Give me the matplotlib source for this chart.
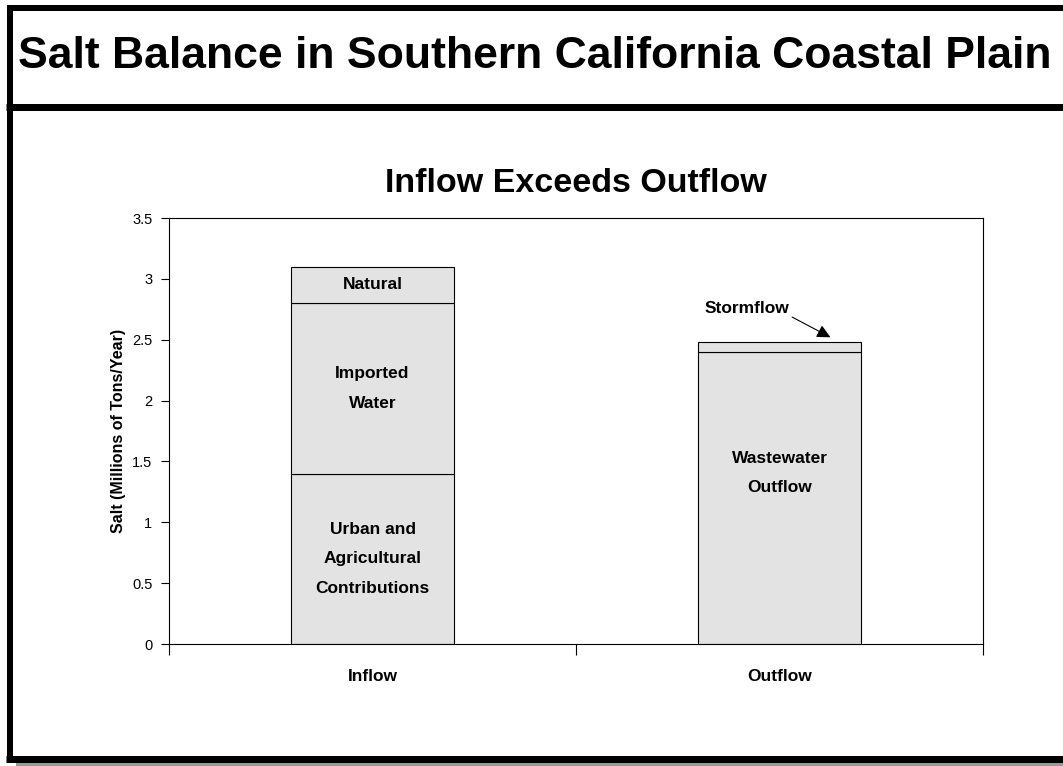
import matplotlib.pyplot as plt
from matplotlib.lines import Line2D
from matplotlib.patches import Rectangle

plt.rcParams['font.family'] = ['Liberation Sans', 'DejaVu Sans']

categories = ["Inflow", "Outflow"]
inflow_parts = [1.4, 1.4, 0.3]
inflow_labels = ["Urban and\nAgricultural\nContributions", "Imported\nWater", "Natural"]
outflow_parts = [2.4, 0.08]
outflow_labels = ["Wastewater\nOutflow", ""]
yticks = [0, 0.5, 1, 1.5, 2, 2.5, 3, 3.5]
ytick_labels = ["0", "0.5", "1", "1.5", "2", "2.5", "3", "3.5"]

W, H = 1063, 766
fig = plt.figure(figsize=(W / 100, H / 100), dpi=100)

def px(x, y):
    return x / W, 1 - y / H

# frame, title band and shadow
fig.patches.append(Rectangle(px(16, 766), (W - 16) / W, 4 / H, transform=fig.transFigure,
                             facecolor="#999999", edgecolor="none"))
for (x0, y0), (x1, y1), lw in [((9.5, 8), (W + 5, 8), 6), ((9.5, 5), (9.5, 762), 6),
                               ((6, 758.5), (W + 5, 758.5), 7), ((6, 106.5), (W + 5, 106.5), 7)]:
    a, b = px(x0, y0)
    c, d = px(x1, y1)
    fig.add_artist(Line2D([a, c], [b, d], transform=fig.transFigure, color="black",
                          lw=lw * 0.72, solid_capstyle="butt"))

fig.text(*px(535, 57), "Salt Balance in Southern California Coastal Plain",
         ha="center", va="center", fontsize=32, fontweight="bold")

ax = fig.add_axes([169 / W, 1 - 644 / H, (983 - 169) / W, (644 - 218) / H])
x = range(len(categories))
bar_kw = dict(width=0.4, color="#e3e3e3", edgecolor="black", linewidth=0.8)
lab_kw = dict(ha="center", va="center", fontsize=12.5, fontweight="bold", linespacing=2.2)

bottom = 0
for val, lab in zip(inflow_parts, inflow_labels):
    ax.bar(0, val, bottom=bottom, **bar_kw)
    ax.text(0, bottom + val / 2, lab, **lab_kw)
    bottom += val

bottom = 0
for val, lab in zip(outflow_parts, outflow_labels):
    ax.bar(1, val, bottom=bottom, **bar_kw)
    if lab:
        ax.text(1, bottom + val * 0.585, lab, **lab_kw)
    bottom += val

ax.annotate("Stormflow", xy=(1.125, 2.52), xytext=(0.92, 2.76),
            ha="center", va="center", fontsize=12.5, fontweight="bold",
            arrowprops=dict(arrowstyle="-|>", color="black", lw=0.8, mutation_scale=20,
                            shrinkA=0, shrinkB=0, relpos=(1, 0)))

ax.set_xlim(-0.5, 1.5)
ax.set_ylim(0, 3.5)
ax.set_yticks(yticks)
ax.set_yticklabels(ytick_labels, fontsize=10.5)
ax.set_xticks(list(x))
ax.set_xticklabels(categories, fontsize=12.5, fontweight="bold")
ax.set_xticks([-0.5, 0.5, 1.5], minor=True)
ax.tick_params(axis="x", which="major", length=0, pad=18)
ax.tick_params(axis="x", which="minor", length=8, width=0.8, direction="out")
ax.tick_params(axis="y", length=6, width=0.8, direction="out", pad=6)
for s in ax.spines.values():
    s.set_linewidth(0.8)
ax.set_ylabel("Salt (Millions of Tons/Year)", fontsize=11.5, fontweight="bold", labelpad=4)

ax.set_title("Inflow Exceeds Outflow", fontsize=24.5, fontweight="bold", pad=19)

fig.savefig("out.png", dpi=100)
